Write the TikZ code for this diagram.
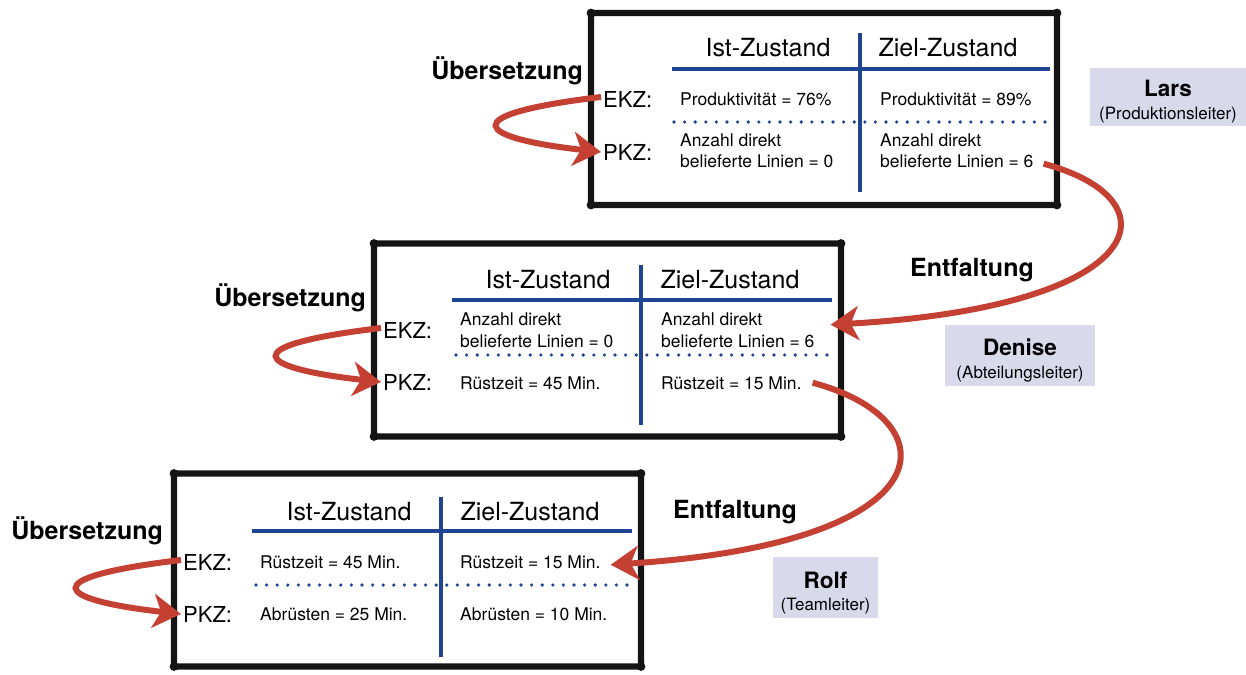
\documentclass[tikz,border=0pt]{standalone}
\usepackage{fontspec}
\setmainfont{TeX Gyre Heros}
\usetikzlibrary{arrows.meta}
\definecolor{redarrow}{RGB}{196,64,50}
\definecolor{tblue}{RGB}{32,68,148}
\definecolor{lav}{RGB}{216,218,236}
\tikzset{
  frame/.style={draw=black!92, line width=6.2pt, rounded corners=3pt, minimum width=467pt, minimum height=193pt, inner sep=0pt, outer sep=0pt, fill=white},
  hdr/.style={anchor=base, inner sep=0pt, font=\fontsize{25}{29}\selectfont},
  kz/.style={anchor=base west, inner sep=0pt, font=\fontsize{22}{26}\selectfont},
  cell/.style={anchor=base west, inner sep=0pt, font=\fontsize{17.5}{21}\selectfont},
  uebs/.style={anchor=base east, inner sep=0pt, font=\fontsize{25}{29}\selectfont\bfseries},
  entf/.style={anchor=base west, inner sep=0pt, font=\fontsize{25}{29}\selectfont\bfseries},
  solidline/.style={draw=tblue, line width=3.2pt},
  dotline/.style={draw=tblue, line width=3.6pt, line cap=round, dash pattern=on 0pt off 10.6pt},
  redarr/.style={draw=redarrow, line width=6pt, -{Stealth[length=28pt,width=34pt,inset=8pt]}},
  pbox/.style={fill=lav, draw=none, inner sep=0pt},
  pname/.style={anchor=base, inner sep=0pt, font=\fontsize{22.5}{26}\selectfont\bfseries},
  prole/.style={anchor=base, inner sep=0pt, font=\fontsize{17}{20}\selectfont},
  blob/.style={fill=black!92},
}
\begin{document}
\begin{tikzpicture}[x=1pt,y=-1pt]
\useasboundingbox (0,0) rectangle (1246,674);

% ---------- top box ----------
\begin{scope}[shift={(588,10)}, name prefix=top-]
\node[frame, minimum width=466pt, minimum height=192pt] (frame) at (236,99) {};
\foreach \c in {north west,north east,south west,south east}
  \fill[blob] (frame.\c) circle (4.4pt);
\node[hdr] (h1) at (180,47) {Ist-Zustand};
\node[hdr] (h2) at (360,47) {Ziel-Zustand};
\draw[solidline] (84,59) -- (462,59);
\draw[solidline] (272,23) -- (272,182);
\draw[dotline] (86,112) -- (462,112);
\node[kz] (ekz) at (15,97) {EKZ:};
\node[kz] (pkz) at (15,150) {PKZ:};
\node[cell] (c1r1) at (92,96) {Produktivität = 76\%};
\node[cell] (c2r1) at (292,96) {Produktivität = 89\%};
\node[cell] (c1r2a) at (92,136) {Anzahl direkt};
\node[cell] (c1r2b) at (92,157) {belieferte Linien = 0};
\node[cell] (c2r2a) at (292,136) {Anzahl direkt};
\node[cell] (c2r2b) at (292,157) {belieferte Linien = 6};
\node[uebs] (ueb) at (-5,70) {Übersetzung};
\end{scope}

% ---------- middle box ----------
\begin{scope}[shift={(370,240)}, name prefix=mid-]
\node[frame] (frame) at (237.5,100) {};
\foreach \c in {north west,north east,south west,south east}
  \fill[blob] (frame.\c) circle (4.4pt);
\node[hdr] (h1) at (178,48) {Ist-Zustand};
\node[hdr] (h2) at (360,48) {Ziel-Zustand};
\draw[solidline] (82,60) -- (462,60);
\draw[solidline] (271,25) -- (271,185);
\draw[dotline] (86,115) -- (462,115);
\node[kz] (ekz) at (13,98) {EKZ:};
\node[kz] (pkz) at (13,150) {PKZ:};
\node[cell] (c1r1a) at (90,85) {Anzahl direkt};
\node[cell] (c1r1b) at (90,107) {belieferte Linien = 0};
\node[cell] (c2r1a) at (291,85) {Anzahl direkt};
\node[cell] (c2r1b) at (291,107) {belieferte Linien = 6};
\node[cell] (c1r2) at (90,149) {Rüstzeit = 45 Min.};
\node[cell] (c2r2) at (291,149) {Rüstzeit = 15 Min.};
\node[uebs] (ueb) at (-4,66) {Übersetzung};
\end{scope}

% ---------- bottom box ----------
\begin{scope}[shift={(170,470)}, name prefix=bot-]
\node[frame] (frame) at (237.5,100) {};
\foreach \c in {north west,north east,south west,south east}
  \fill[blob] (frame.\c) circle (4.4pt);
\node[hdr] (h1) at (179,50) {Ist-Zustand};
\node[hdr] (h2) at (360,50) {Ziel-Zustand};
\draw[solidline] (82,61) -- (462,61);
\draw[solidline] (271,27) -- (271,187);
\draw[dotline] (86,115) -- (462,115);
\node[kz] (ekz) at (13,100) {EKZ:};
\node[kz] (pkz) at (13,152) {PKZ:};
\node[cell] (c1r1) at (90,98) {Rüstzeit = 45 Min.};
\node[cell] (c2r1) at (290,98) {Rüstzeit = 15 Min.};
\node[cell] (c1r2) at (90,150) {Abrüsten = 25 Min.};
\node[cell] (c2r2) at (290,150) {Abrüsten = 10 Min.};
\node[uebs] (ueb) at (-7,69) {Übersetzung};
\end{scope}

% ---------- persons ----------
\node[pbox, minimum width=156pt, minimum height=58pt] (lars) at (1168,97) {};
\node[pname] (larsname) at (1168,97) {Lars};
\node[prole] (larsrole) at (1168,119) {(Produktionsleiter)};
\node[pbox, minimum width=150pt, minimum height=61pt] (denise) at (1020,355.5) {};
\node[pname] (denisename) at (1020,355) {Denise};
\node[prole] (deniserole) at (1020,378) {(Abteilungsleiter)};
\node[pbox, minimum width=105pt, minimum height=61pt] (rolf) at (825.5,587.5) {};
\node[pname] (rolfname) at (825.5,588) {Rolf};
\node[prole] (rolfrole) at (825.5,610) {(Teamleiter)};

% ---------- Entfaltung labels ----------
\node[entf] (entf1) at (910,276) {Entfaltung};
\node[entf] (entf2) at (673,518) {Entfaltung};

% ---------- arrows ----------
\draw[redarr] ([xshift=-2pt,yshift=2pt]top-ekz.west) .. controls +(-150,18) and +(-125,-14) .. ([xshift=-2pt]top-pkz.west);
\draw[redarr] ([xshift=-2pt,yshift=2pt]mid-ekz.west) .. controls +(-150,18) and +(-125,-14) .. ([xshift=-2pt]mid-pkz.west);
\draw[redarr] ([xshift=-2pt,yshift=2pt]bot-ekz.west) .. controls +(-150,18) and +(-125,-14) .. ([xshift=-2pt]bot-pkz.west);

\draw[redarr] ([xshift=10pt,yshift=-3pt]top-c2r2b.east) .. controls +(135,36) and +(320,-18) .. ([xshift=16pt,yshift=16pt]mid-c2r1b.east);
\draw[redarr] ([xshift=11pt]mid-c2r2.east) .. controls +(139,37) and +(340,-22) .. ([xshift=10pt,yshift=-3pt]bot-c2r1.east);
\end{tikzpicture}
\end{document}
